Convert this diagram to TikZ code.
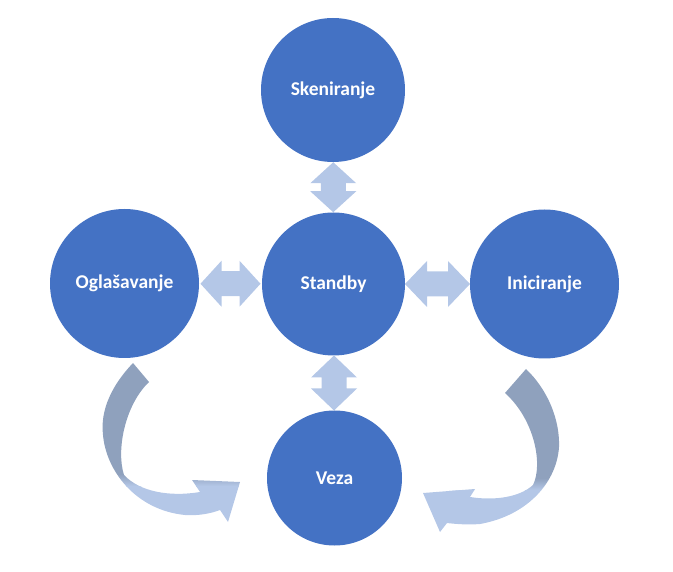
\documentclass[tikz,border=0pt]{standalone}
\usepackage{fontspec}
\setmainfont{Carlito}
\usetikzlibrary{calc}
\definecolor{circblue}{HTML}{4472C4}
\definecolor{lightarr}{HTML}{B4C7E7}
\definecolor{grayarr}{HTML}{8FA1BD}
\tikzset{
  stage/.style={circle, fill=circblue, draw=none, inner sep=0pt, text=white,
    font=\fontsize{19.5}{23}\selectfont\bfseries},
  pics/dblarrow/.style args={#1/#2}{code={
    \fill[lightarr] (-#1,0) -- ++(#2,-23) -- ++(0,10.5) -- (#1-#2,-12.5) -- ++(0,-10.5)
      -- (#1,0) -- ++(-#2,23) -- ++(0,-10.5) -- (-#1+#2,12.5) -- ++(0,10.5) -- cycle;}}
}
\def\leftcurve{(133,363) .. controls (112,385) and (100,410) .. (103,435)
  .. controls (106,470) and (135,510) .. (185,515)
  .. controls (200,516) and (212,513) .. (220,510)
  -- (228,522) -- (240,482) -- (192,480) -- (200,492)
  .. controls (170,497) and (140,492) .. (124,475)
  .. controls (116,450) and (125,405) .. (149,382) -- cycle}
\def\rightcurve{(526,369) .. controls (548,390) and (560,420) .. (559,447)
  .. controls (557,480) and (530,515) .. (480,524)
  .. controls (468,525) and (455,524) .. (447,523)
  -- (440,532) -- (423,493) -- (475,489) -- (470,497)
  .. controls (495,501) and (520,497) .. (533,485)
  .. controls (543,465) and (535,420) .. (505,393) -- cycle}
\begin{document}
\begin{tikzpicture}[x=1pt,y=-1pt]
\useasboundingbox (0,0) rectangle (673,572);
\node[stage, minimum size=144pt] (sk) at (333,90) {Skeniranje};
\node[stage, minimum size=143pt] (sb) at (333.5,284) {Standby};
\node[stage, minimum size=149pt] (og) at (124.5,283.5) {Oglašavanje};
\node[stage, minimum size=149pt] (in) at (544.5,284) {Iniciranje};
\node[stage, minimum size=135pt] (vz) at (334.5,478) {Veza};
% double arrows
\pic at ($(og.east)!0.5!(sb.west)$) {dblarrow=30/21};
\pic at ($(sb.east)!0.5!(in.west)$) {dblarrow=32.5/22};
\pic[rotate=90] at ($(sk.south)!0.5!(sb.north)$) {dblarrow=25/21};
\pic[rotate=90] at ($(sb.south)!0.5!(vz.north)$) {dblarrow=27.5/22};
% curved arrows
\begin{scope}
  \clip \leftcurve;
  \fill[grayarr] (0,350) rectangle (673,474);
  \shade[top color=grayarr, bottom color=lightarr] (0,474) rectangle (673,486);
  \fill[lightarr] (0,486) rectangle (673,545);
\end{scope}
\begin{scope}
  \clip \rightcurve;
  \fill[grayarr] (0,350) rectangle (673,478);
  \shade[top color=grayarr, bottom color=lightarr] (0,478) rectangle (673,490);
  \fill[lightarr] (0,490) rectangle (673,545);
\end{scope}
\end{tikzpicture}
\end{document}
